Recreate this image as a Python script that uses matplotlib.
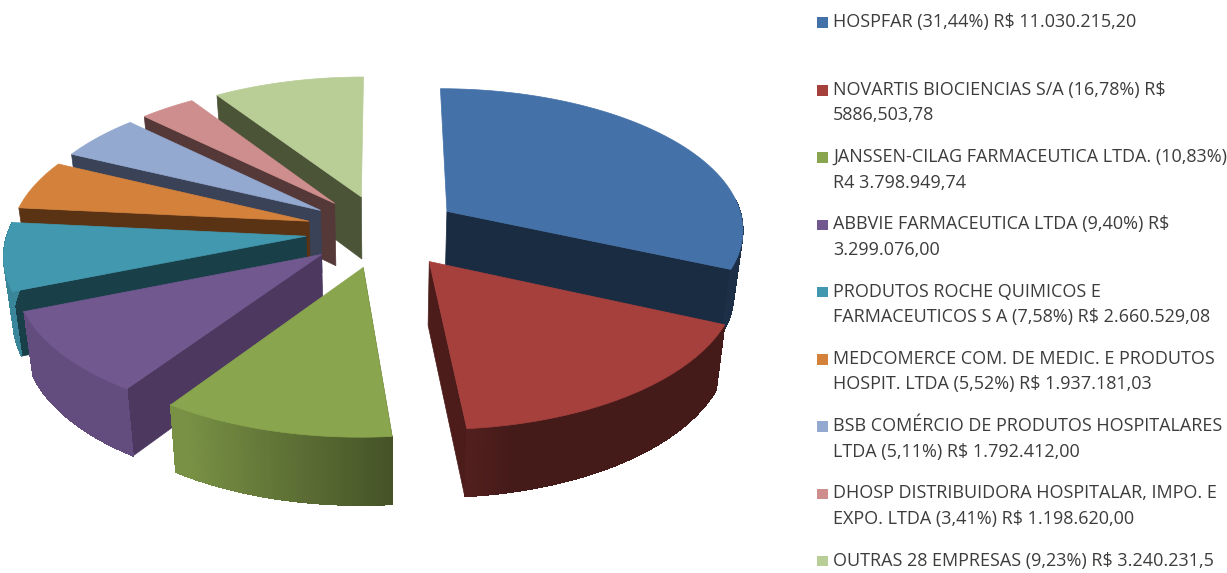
import numpy as np
import matplotlib
matplotlib.use('Agg')
import matplotlib.pyplot as plt
from matplotlib.patches import Polygon, Rectangle

# Data
values = [11030215.20, 5886503.78, 3798949.74, 3299076.00, 2660529.08,
          1937181.03, 1792412.00, 1198620.00, 3240231.50]
labels = [
    ['HOSPFAR (31,44%) R$ 11.030.215,20'],
    ['NOVARTIS BIOCIENCIAS S/A (16,78%) R$', '5886,503,78'],
    ['JANSSEN-CILAG FARMACEUTICA LTDA. (10,83%)', 'R4 3.798.949,74'],
    ['ABBVIE FARMACEUTICA LTDA (9,40%) R$', '3.299.076,00'],
    ['PRODUTOS ROCHE QUIMICOS E', 'FARMACEUTICOS S A (7,58%) R$ 2.660.529,08'],
    ['MEDCOMERCE COM. DE MEDIC. E PRODUTOS', 'HOSPIT. LTDA (5,52%) R$ 1.937.181,03'],
    ['BSB COMÉRCIO DE PRODUTOS HOSPITALARES', 'LTDA (5,11%) R$ 1.792.412,00'],
    ['DHOSP DISTRIBUIDORA HOSPITALAR, IMPO. E', 'EXPO. LTDA (3,41%) R$ 1.198.620,00'],
    ['OUTRAS 28 EMPRESAS (9,23%) R$ 3.240.231,5'],
]
top_colors = ['#4471a8', '#a5403d', '#89a54e', '#71588f', '#4198af',
              '#d4823b', '#93a9cf', '#ce8e8d', '#b9cd96']
face_colors = ['#1a2c42', '#4c1c1a', '#4c5a2a', '#4d3860', '#193f49',
               '#5a3315', '#3a4258', '#553838', '#4c5438']

# Pie geometry (pixels)
cx, cy = 383, 231
rx, ry = 298, 141
persp = 0.115
explode = 0.26
depth = 63
draw_order = [8, 7, 6, 5, 4, 3, 2, 0, 1]


def project(X, Y):
    s = 1 / (1 + persp * Y)
    return cx + rx * X * s, cy - ry * Y * s


def lower(x, y, Y):
    s = 1 / (1 + persp * Y)
    return cx + (x - cx) * 0.975, y + depth * np.sqrt(s)


def rgb_scale(col, f):
    return tuple(np.array(matplotlib.colors.to_rgb(col)) * f)


fig = plt.figure(figsize=(12.27, 5.73), dpi=100)
ax = fig.add_axes([0, 0, 1, 1])
ax.set_xlim(0, 1227)
ax.set_ylim(573, 0)
ax.axis('off')

fracs = np.array(values) / np.sum(values)
edges = np.concatenate([[0], np.cumsum(fracs)]) * 2 * np.pi

for i in draw_order:
    a0, a1 = edges[i], edges[i + 1]
    mid = (a0 + a1) / 2
    ox, oy = explode * np.sin(mid), explode * np.cos(mid)
    th = np.linspace(a0, a1, 60)
    X = ox + np.sin(th)
    Y = oy + np.cos(th)
    xs, ys = project(X, Y)
    ax0, ay0 = project(ox, oy)
    bx, by = lower(xs, ys, Y)
    abx, aby = lower(ax0, ay0, oy)

    # straight side face: only the one turned towards the viewer
    k = -1 if np.sin(mid) > 0 else 0
    ax.add_patch(Polygon([(ax0, ay0), (xs[k], ys[k]), (bx[k], by[k]), (abx, aby)],
                         closed=True, fc=face_colors[i], ec=face_colors[i], lw=0.5))
    # outer rim, shaded along the arc
    vis = np.cos(th) < 0.1
    if vis.sum() > 1:
        outline = list(zip(xs[vis], ys[vis])) + list(zip(bx[vis][::-1], by[vis][::-1]))
        shade = np.clip(0.56 - 0.62 * np.sin(th[vis]).mean(), 0.42, 0.88)
        c = rgb_scale(top_colors[i], shade)
        ax.add_patch(Polygon(outline, closed=True, fc=c, ec=c, lw=0.5))
        for k in np.where(vis[:-1] & vis[1:])[0]:
            f = np.clip(0.56 - 0.62 * np.sin(th[k]), 0.42, 0.88)
            c = rgb_scale(top_colors[i], f)
            ax.add_patch(Polygon([(xs[k], ys[k]), (xs[k + 1], ys[k + 1]),
                                  (bx[k + 1], by[k + 1]), (bx[k], by[k])],
                                 closed=True, fc=c, ec=c, lw=0.3, antialiased=False))
    # top
    pts = [(ax0, ay0)] + list(zip(xs, ys))
    ax.add_patch(Polygon(pts, closed=True, fc=top_colors[i], ec=top_colors[i], lw=0.5))

# Legend
row_y = [22] + [90 + 67.25 * n for n in range(8)]
for i, lines in enumerate(labels):
    ax.add_patch(Rectangle((817, row_y[i] - 5), 10.5, 10.5, fc=top_colors[i], ec='none'))
    for j, line in enumerate(lines):
        ax.text(833, row_y[i] + j * 25.5, line, fontsize=13, family='Open Sans',
                color='#3c3c3c', va='center', ha='left', clip_on=True)

fig.savefig('out.png', dpi=100)
